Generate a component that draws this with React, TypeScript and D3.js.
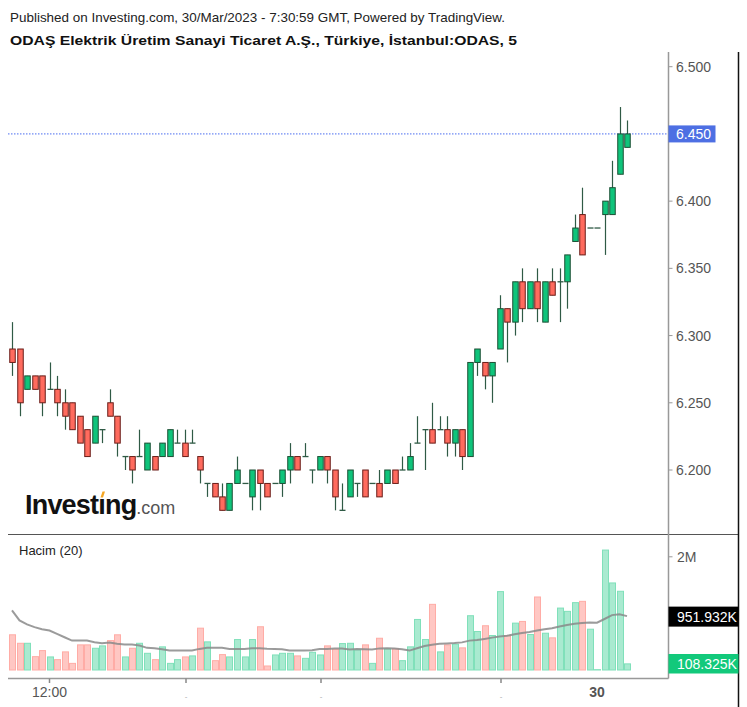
import React from "react";
import * as d3 from "d3";

const opens = [6.29,6.29,6.26,6.27,6.27,6.26,6.26,6.25,6.25,6.24,6.23,6.22,6.23,6.25,6.24,6.21,6.21,6.21,6.20,6.21,6.21,6.21,6.22,6.22,6.22,6.21,6.19,6.19,6.18,6.17,6.19,6.19,6.18,6.20,6.19,6.19,6.19,6.20,6.21,6.21,6.20,6.20,6.21,6.20,6.17,6.18,6.19,6.20,6.19,6.19,6.19,6.20,6.20,6.20,6.22,6.23,6.23,6.23,6.23,6.22,6.23,6.21,6.28,6.28,6.27,6.29,6.32,6.31,6.34,6.32,6.34,6.31,6.34,6.34,6.34,6.37,6.39,6.38,6.38,6.39,6.39,6.42,6.44];
const highs = [6.31,6.29,6.27,6.27,6.27,6.28,6.27,6.26,6.25,6.24,6.23,6.24,6.23,6.26,6.24,6.21,6.21,6.23,6.22,6.21,6.22,6.23,6.23,6.23,6.23,6.21,6.19,6.19,6.19,6.19,6.21,6.19,6.20,6.20,6.19,6.19,6.20,6.22,6.21,6.22,6.20,6.21,6.21,6.20,6.19,6.20,6.19,6.20,6.19,6.20,6.20,6.20,6.21,6.22,6.24,6.23,6.25,6.24,6.24,6.23,6.23,6.28,6.29,6.28,6.28,6.33,6.32,6.34,6.35,6.34,6.35,6.34,6.35,6.35,6.36,6.39,6.41,6.38,6.38,6.40,6.43,6.47,6.46];
const lows = [6.27,6.24,6.26,6.26,6.24,6.26,6.24,6.23,6.23,6.22,6.21,6.22,6.22,6.24,6.21,6.20,6.19,6.21,6.20,6.20,6.21,6.21,6.22,6.21,6.22,6.19,6.18,6.18,6.17,6.17,6.19,6.19,6.17,6.17,6.18,6.19,6.18,6.19,6.20,6.21,6.19,6.20,6.19,6.17,6.17,6.18,6.18,6.18,6.19,6.18,6.19,6.19,6.20,6.20,6.22,6.20,6.22,6.23,6.21,6.21,6.20,6.21,6.27,6.26,6.25,6.29,6.28,6.30,6.31,6.32,6.31,6.31,6.33,6.31,6.32,6.37,6.36,6.38,6.38,6.36,6.39,6.42,6.44];
const closes = [6.28,6.25,6.27,6.26,6.25,6.26,6.25,6.24,6.23,6.22,6.21,6.24,6.23,6.24,6.22,6.21,6.20,6.21,6.22,6.20,6.22,6.23,6.22,6.21,6.22,6.20,6.19,6.18,6.17,6.19,6.20,6.19,6.20,6.19,6.18,6.19,6.20,6.21,6.20,6.21,6.20,6.21,6.20,6.18,6.17,6.20,6.19,6.18,6.19,6.18,6.20,6.19,6.20,6.21,6.22,6.23,6.22,6.23,6.22,6.23,6.21,6.28,6.29,6.27,6.28,6.32,6.31,6.34,6.32,6.34,6.32,6.34,6.33,6.34,6.36,6.38,6.36,6.38,6.38,6.40,6.41,6.45,6.45];
// volume in thousands
const volumes = [622,472,472,236,343,231,183,320,117,444,444,384,426,520,622,231,384,472,295,183,409,117,183,231,249,739,497,165,272,231,538,231,538,764,71,266,295,295,249,206,313,266,426,366,467,472,355,444,117,561,373,373,165,409,893,538,1160,320,444,455,391,959,680,782,609,1385,609,828,858,627,1290,650,568,1094,1036,1190,1213,721,6,2119,1538,1391,108.325];
// volume moving average (20) in thousands
const volumeMA = [1053,876,805,757,721,698,639,579,520,520,520,490,472,485,462,449,449,432,391,384,366,343,343,343,343,373,391,391,391,373,373,369,384,384,377,373,368,343,343,343,348,371,373,378,380,361,369,368,361,382,384,378,368,343,384,423,448,462,469,476,488,519,529,549,572,590,604,631,654,673,698,719,737,767,794,817,829,840,835,901,970,986,951.932];

const priceTicks = [6.5, 6.45, 6.4, 6.35, 6.3, 6.25, 6.2];
const volumeTicks = [{ v: 2000, label: "2M" }];
const timeTicks = [
  { i: 5, label: "12:00", bold: false, mark: true },
  { i: 23.2, label: "-", bold: false, mark: true, tiny: true },
  { i: 41.2, label: "-", bold: false, mark: true, tiny: true },
  { i: 65.2, label: "-", bold: false, mark: true, tiny: true },
  { i: 78, label: "30", bold: true, mark: false },
];
const lastPrice = 6.45;
const lastVolMA = "951.932K";
const lastVol = "108.325K";
const headerText = "Published on Investing.com, 30/Mar/2023 - 7:30:59 GMT, Powered by TradingView.";
const titleText = "ODAŞ Elektrik Üretim Sanayi Ticaret A.Ş., Türkiye, İstanbul:ODAS, 5";

const FONT = "'Liberation Sans', Arial, sans-serif";
const UP = "#0fc47b";
const UP_BORDER = "#1c4f34";
const DOWN = "#ff6b5e";
const DOWN_BORDER = "#6a1d18";
const WICK = "#2f5a45";

export default function App() {
  const x = d3.scaleLinear().domain([0, 82]).range([12, 627]);
  const y = d3.scaleLinear().domain([6.2, 6.5]).range([470, 66.7]);
  const yv = d3.scaleLinear().domain([0, 2000]).range([670, 556.8]);
  const maPath = d3
    .line<number>()
    .x((_, i) => x(i))
    .y((d) => yv(d))(volumeMA) as string;

  const axisX = 668.5;
  const rightX = 738.5;
  const bw = 5.5;

  return (
    <svg
      width={747}
      height={707}
      style={{ position: "absolute", left: 0, top: 0, background: "#fff" }}
      fontFamily={FONT}
    >
      <rect x={0} y={0} width={747} height={707} fill="#fff" />
      <text x={10} y={21.5} fontSize={13} fill="#222" textLength={495} lengthAdjust="spacingAndGlyphs">{headerText}</text>
      <text x={10} y={44.5} fontSize={13.5} fontWeight="bold" fill="#111" textLength={507} lengthAdjust="spacingAndGlyphs">{titleText}</text>

      {/* last price dotted line */}
      <line x1={8} x2={axisX} y1={y(lastPrice)} y2={y(lastPrice)} stroke="#4a6cf0" strokeWidth={1} strokeDasharray="1.5,1.5" />

      {/* candles */}
      {opens.map((o, i) => {
        const c = closes[i];
        const h = highs[i];
        const l = lows[i];
        const cx = Math.round(x(i)) + 0.5;
        const up = c >= o;
        const top = y(Math.max(o, c));
        const bot = y(Math.min(o, c));
        return (
          <g key={i}>
            {h !== l && (
              <line x1={cx} x2={cx} y1={y(h)} y2={y(l)} stroke={WICK} strokeWidth={1.2} />
            )}
            {o === c ? (
              <line x1={cx - 3} x2={cx + 3} y1={y(o)} y2={y(o)} stroke={WICK} strokeWidth={1.3} />
            ) : (
              <rect
                x={cx - bw / 2}
                y={top}
                width={bw}
                height={bot - top}
                fill={up ? UP : DOWN}
                stroke={up ? UP_BORDER : DOWN_BORDER}
                strokeWidth={1}
              />
            )}
          </g>
        );
      })}

      {/* logo */}
      <g>
        <text x={25} y={514} fontSize={27} fontWeight="bold" fill="#111" letterSpacing={-0.8}>
          Investıng
          <tspan fontSize={18} fontWeight="normal" fill="#555" letterSpacing={0}>.com</tspan>
        </text>
        <path d="M100.5,497.5 L102.5,491.5 L105,491.5 L103,497.5 Z" fill="#f5a623" />
      </g>

      {/* pane separators / borders */}
      <line x1={8} x2={rightX} y1={534.5} y2={534.5} stroke="#555" strokeWidth={1} />
      <line x1={axisX} x2={axisX} y1={52} y2={678.5} stroke="#999" strokeWidth={1.5} />
      <line x1={rightX} x2={rightX} y1={52} y2={707} stroke="#111" strokeWidth={1.5} />
      <line x1={8} x2={axisX} y1={678.5} y2={678.5} stroke="#999" strokeWidth={1.5} />

      {/* price axis */}
      {priceTicks.map((p) => (
        <g key={p}>
          <line x1={axisX} x2={axisX + 4} y1={y(p)} y2={y(p)} stroke="#999" />
          <text x={676} y={y(p) + 5} fontSize={14} fill="#555">{p.toFixed(3)}</text>
        </g>
      ))}
      <rect x={axisX} y={y(lastPrice) - 8.5} width={47} height={17} fill="#4d6fe3" />
      <text x={676} y={y(lastPrice) + 5} fontSize={14} fill="#fff">{lastPrice.toFixed(3)}</text>

      {/* volume pane */}
      <text x={19} y={555} fontSize={13} fill="#222">Hacim (20)</text>
      {volumes.map((v, i) => {
        const up = closes[i] >= opens[i];
        const cx = Math.round(x(i)) + 0.5;
        return (
          <rect
            key={i}
            x={cx - 3}
            y={yv(v)}
            width={6}
            height={yv(0) - yv(v)}
            fill={up ? "#a9ead0" : "#ffc7c3"}
            stroke={up ? "#80e0ba" : "#ffaca6"}
            strokeWidth={1}
          />
        );
      })}
      <path d={maPath} fill="none" stroke="#8a8a8a" strokeWidth={2} strokeOpacity={0.85} />

      {volumeTicks.map((t) => (
        <g key={t.label}>
          <line x1={axisX} x2={axisX + 4} y1={yv(t.v)} y2={yv(t.v)} stroke="#999" />
          <text x={677} y={yv(t.v) + 5} fontSize={14} fill="#555">{t.label}</text>
        </g>
      ))}
      <rect x={axisX} y={yv(volumeMA[volumeMA.length - 1]) - 9.5} width={rightX - axisX} height={20} fill="#000" />
      <text x={677} y={yv(volumeMA[volumeMA.length - 1]) + 5.5} fontSize={14} fill="#fff">{lastVolMA}</text>
      <rect x={axisX} y={654} width={rightX - axisX} height={19.5} fill="#12c97b" />
      <text x={677} y={669} fontSize={14} fill="#fff">{lastVol}</text>

      {/* time axis */}
      {timeTicks.map((t) => (
        <g key={t.i}>
          {t.mark && <line x1={x(t.i)} x2={x(t.i)} y1={678.5} y2={683} stroke="#888" strokeWidth={1.5} />}
          <text
            x={x(t.i)}
            y={t.tiny ? 699 : 697}
            fontSize={t.tiny ? 8 : 14}
            textAnchor="middle"
            fontWeight={t.bold ? "bold" : "normal"}
            fill={t.tiny ? "#aaa" : "#555"}
          >
            {t.label}
          </text>
        </g>
      ))}
    </svg>
  );
}
